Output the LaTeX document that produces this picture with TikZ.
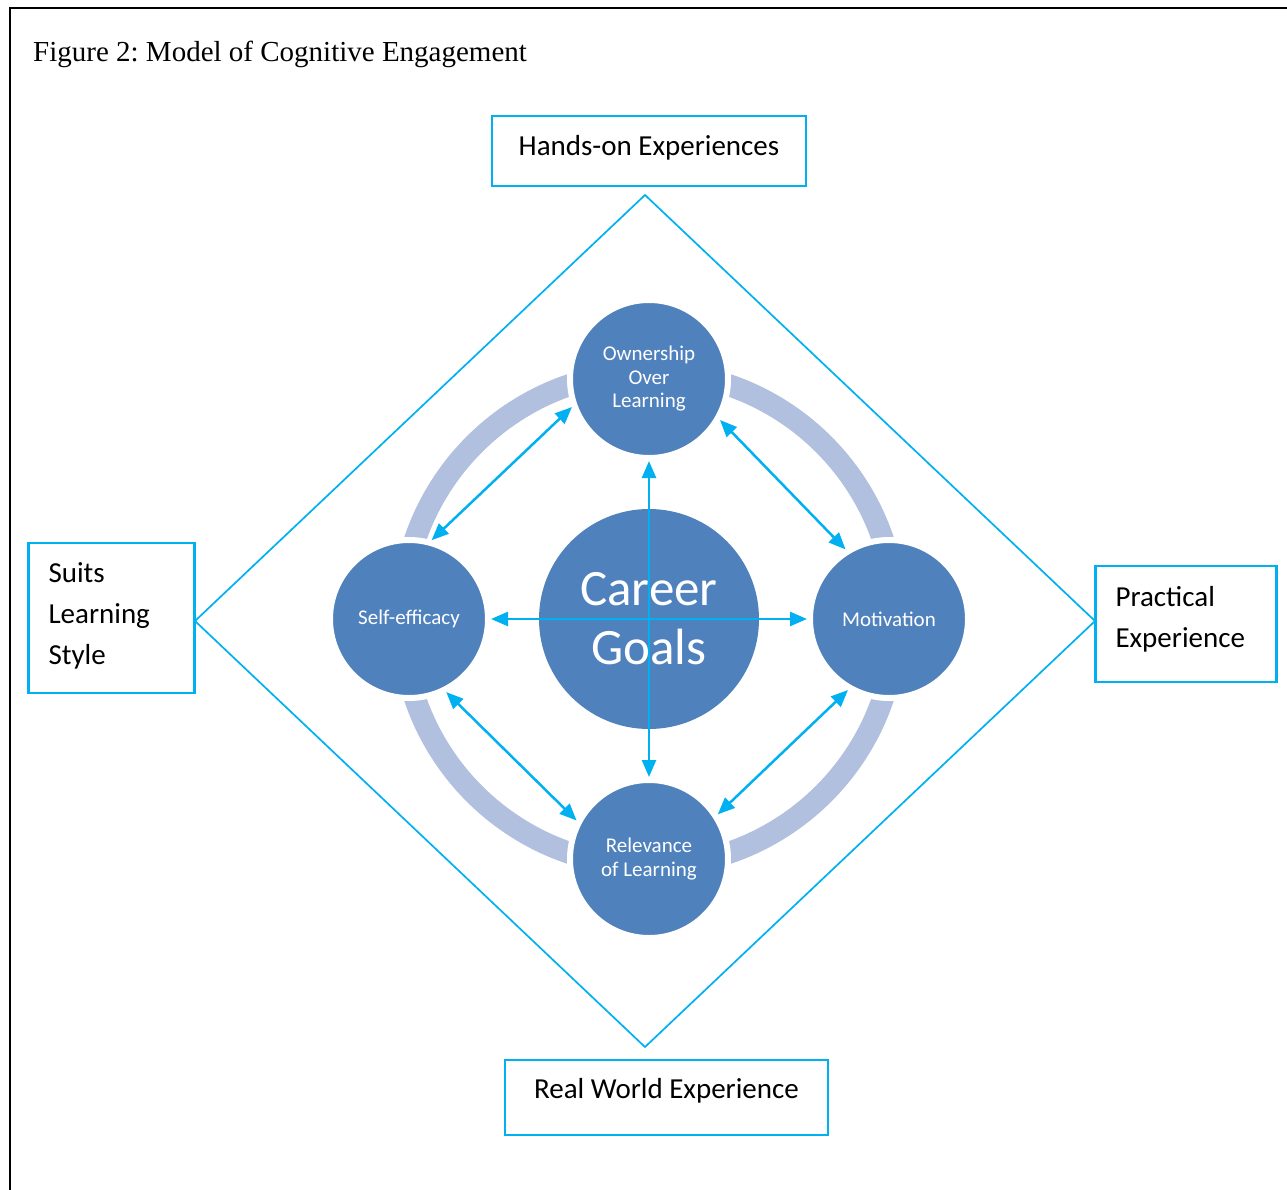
\documentclass[tikz,border=0pt]{standalone}
\usepackage{fontspec}
\setmainfont{Carlito}
\newfontfamily\titlefont{Liberation Serif}
\usetikzlibrary{arrows.meta, calc, positioning}
\frenchspacing
\definecolor{cyanline}{HTML}{00B0F0}
\definecolor{bluefill}{HTML}{4F81BD}
\definecolor{ringfill}{RGB}{176,192,222}
\tikzset{>={Triangle[length=17pt, width=14pt]}}
\tikzset{bubble-s/.style = {circle, fill=bluefill, draw=white, line width=6pt, minimum size=158pt, inner sep=0pt, text=white, align=center, font=\fontsize{21}{23.5}\selectfont}}
\tikzset{bubble-c/.style = {circle, fill=bluefill, minimum size=220pt, inner sep=0pt, text=white, align=center, font=\fontsize{51}{59}\selectfont}}
\tikzset{box-r/.style = {draw=cyanline, line width=2.3pt, rectangle, font=\fontsize{29}{41}\selectfont}}
\tikzset{link/.style = {<->, cyanline, line width=2.5pt}}

\begin{document}
\begin{tikzpicture}[x=1pt, y=-1pt]
  \useasboundingbox (0,0) rectangle (1287,1190);
  \draw[line width=2.3pt] (10,1190) -- (10,8) -- (1287,8);
  \node[anchor=base west, inner sep=0pt, font=\titlefont\fontsize{29}{35}\selectfont] (title) at (33,62) {Figure 2: Model of Cognitive Engagement};

  % outer boxes
  \node[box-r, minimum width=314pt, minimum height=70pt, text depth=12pt] (hands) at (649,151) {Hands-on Experiences};
  \node[box-r, text width=126pt, inner xsep=20pt, minimum height=150pt, text depth=90pt, align=left] (suits) at (111.5,618) {Suits\\Learning\\Style};
  \node[box-r, text width=141pt, inner xsep=20pt, minimum height=116pt, text depth=56pt, align=left] (pract) at (1186,624) {Practical\\Experience};
  \node[box-r, minimum width=323pt, minimum height=75pt, text depth=18pt] (real) at (666.5,1097.5) {Real World Experience};

  % diamond
  \coordinate (dtop) at (645,195);
  \coordinate (dleft) at (195,621);
  \coordinate (dbot) at (645,1047);
  \coordinate (dright) at (1095,621);
  \draw[cyanline, line width=1.7pt] (dtop) -- (dright) -- (dbot) -- (dleft) -- cycle;

  % ring and circles
  \coordinate (mid) at (649,619);
  \draw[ringfill, line width=22pt] (mid) circle[radius=247];
  \path (mid) node[bubble-c] (goals) {Career\\Goals}
      ++(0,-240) node[bubble-s] (own) {Ownership\\Over\\Learning}
      ++(-240,240) node[bubble-s] (self) {Self-efficacy}
      ++(240,240) node[bubble-s] (rel) {Relevance\\of Learning}
      ++(240,-240) node[bubble-s] (motiv) {Motivation};

  \foreach \i/\o in {own/rel, self/motiv}
  {
    \draw[link] (\i) -- (\o);
  }
  \foreach \i/\o in {own.200/self.74, own.330/motiv.122, self.297/rel.152, motiv.240/rel.33}
  {
    \draw[link] (\i) -- (\o);
  }
\end{tikzpicture}
\end{document}
